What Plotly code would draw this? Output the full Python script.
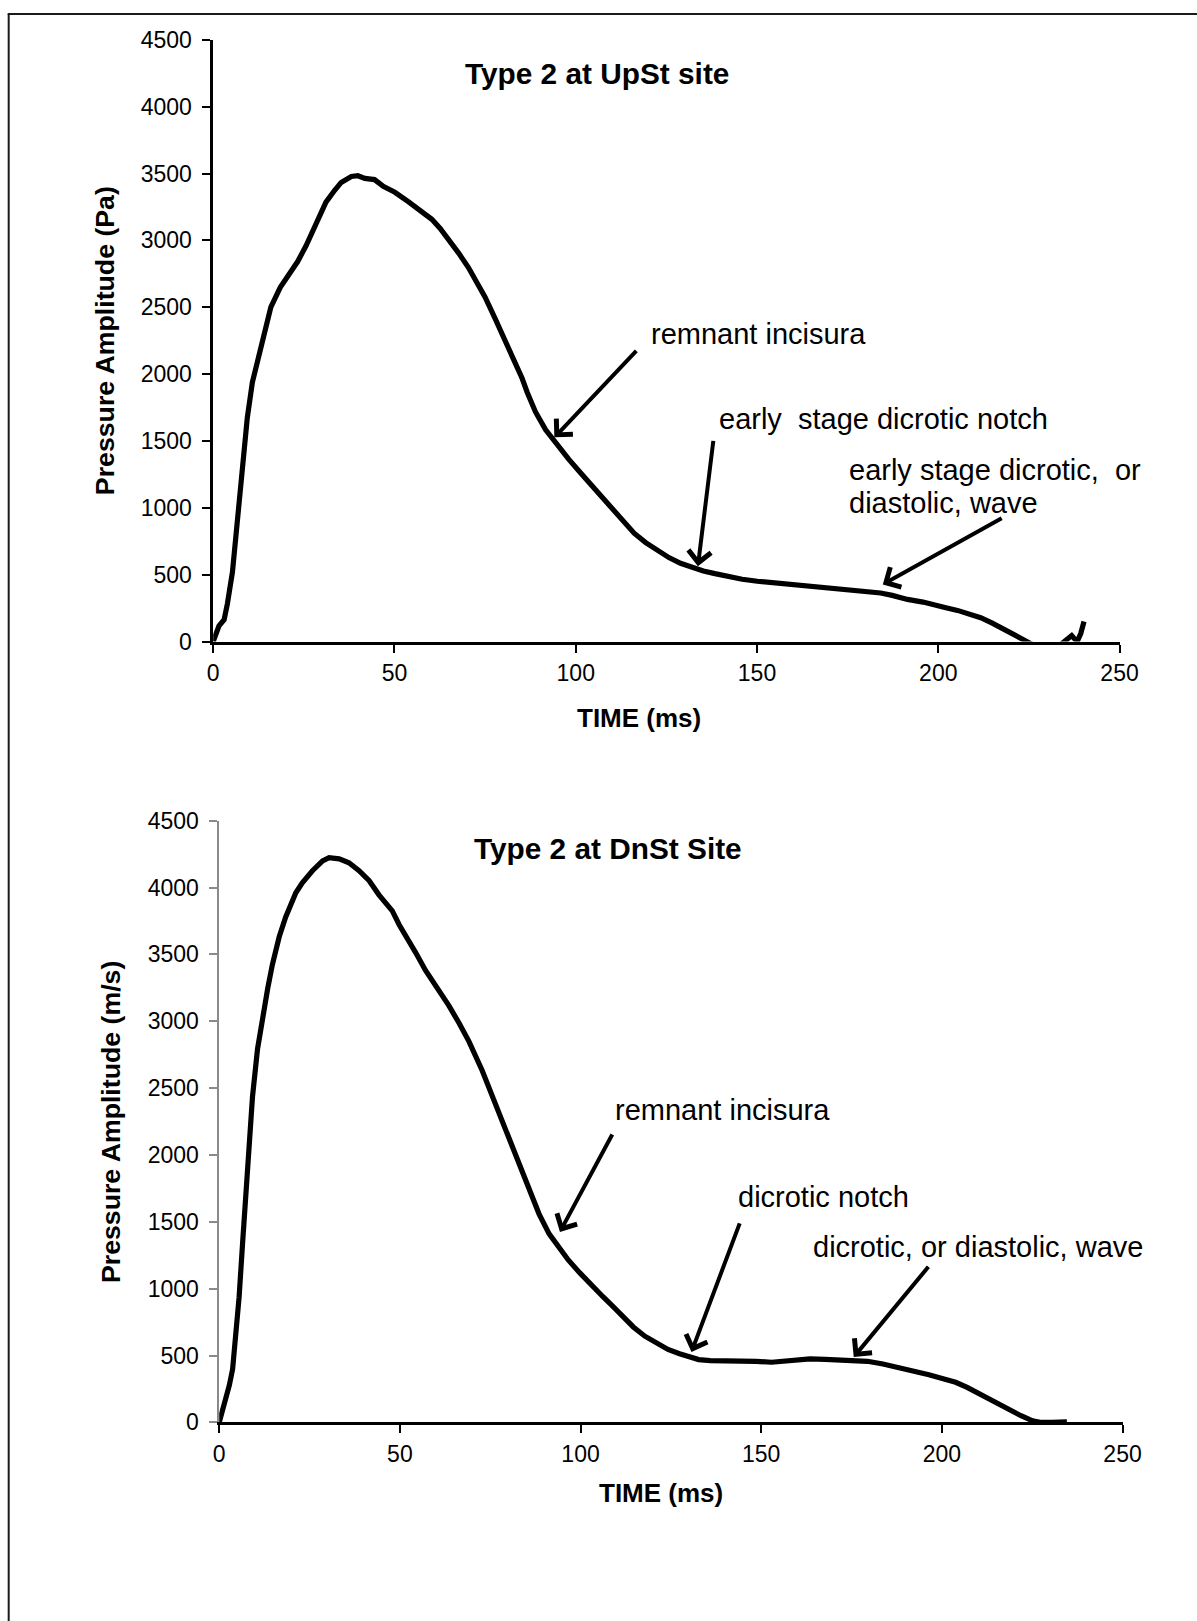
import plotly.graph_objects as go

# ---- Upstream (UpSt) pressure waveform ----
upst_time = [0, 1.6, 3.0, 3.9, 5.3, 6.65, 8.0, 9.4, 10.8, 12.2, 14.0, 15.9, 18.5, 20.1,
             21.4, 23.3, 25.6, 27.0, 29.3, 31.1, 33.5, 35.3, 38.1, 39.9, 41.8, 44.5, 46.9,
             50.1, 53.8, 57.5, 60.3, 62.6, 64.9, 67.7, 70.4, 73.2, 75.0, 77.8, 80.6, 82.9,
             85.2, 86.6, 88.9, 91.7, 94.4, 98.1, 101.3, 104.5, 107.6, 110.8, 113.5, 116.1,
             119.3, 122.5, 125.7, 128.9, 132.6, 135.2, 138.4, 141.6, 145.9, 150.1, 154.4,
             158.6, 162.9, 167.1, 171.3, 175.6, 179.8, 184.1, 187.3, 191.5, 195.8, 199.0,
             202.1, 205.3, 208.5, 211.7, 214.9, 218.1, 221.2, 223.9, 226.5, 229.5, 232.5,
             234.8, 236.0, 236.8, 237.6, 238.4, 239.3, 240.2]
upst_pressure = [0, 118, 163, 281, 518, 873, 1317, 1673, 1939, 2087, 2294, 2501, 2649, 2709,
                 2768, 2842, 2960, 3049, 3182, 3286, 3375, 3434, 3478, 3484, 3464, 3455, 3404,
                 3360, 3290, 3218, 3158, 3090, 3012, 2905, 2797, 2664, 2575, 2413, 2250, 2117,
                 1969, 1865, 1717, 1584, 1484, 1362, 1262, 1164, 1068, 972, 885, 810,
                 740, 680, 628, 585, 548, 528, 508, 488, 466, 451, 441,
                 431, 421, 408, 395, 388, 378, 363, 345, 315, 295, 278,
                 253, 233, 208, 178, 138, 95, 45, 8, -30, -70, -50,
                 -5, 30, 45, 20, 5, 60, 150]

# ---- Downstream (DnSt) pressure waveform ----
dnst_time = [0, 1.4, 2.8, 3.7, 4.6, 5.5, 6.5, 7.4, 8.3, 9.2, 10.6, 12.0, 13.4, 14.7, 16.6,
             18.4, 21.2, 23.0, 25.8, 28.6, 30.4, 33.2, 35.9, 38.7, 41.5, 44.2, 47.9, 49.8,
             51.6, 54.4, 57.1, 59.9, 63.6, 66.4, 69.1, 72.8, 74.6, 77.4, 80.2, 82.9, 85.7,
             88.5, 91.3, 94.0, 96.6, 99.8, 103.0, 106.2, 109.3, 112.0, 114.6, 117.8, 121.0,
             124.2, 127.4, 130.6, 132.7, 135.9, 140.1, 144.4, 148.6, 152.9, 157.1, 161.4,
             163.5, 167.7, 172.0, 175.2, 179.4, 183.7, 187.9, 192.1, 196.4, 200.6, 203.8,
             207.0, 211.3, 215.5, 218.7, 221.9, 225.1, 227.2, 230.4, 234.6]
dnst_pressure = [0, 129, 278, 398, 638, 937, 1356, 1745, 2105, 2434, 2793, 3033, 3243, 3422,
                 3632, 3781, 3961, 4036, 4126, 4200, 4224, 4215, 4186, 4126, 4051, 3946, 3826,
                 3722, 3632, 3512, 3380, 3268, 3115, 2985, 2850, 2630, 2505, 2318, 2120, 1925,
                 1740, 1560, 1410, 1305, 1215, 1118, 1025, 940, 858, 782, 714, 645, 590,
                 546, 514, 489, 470, 462, 462, 457, 457, 450, 457, 462,
                 475, 472, 467, 462, 457, 437, 412, 387, 357, 325, 300,
                 262, 200, 137, 87, 50, 12, 0, 0, 5]

# ---- Axis ticks ----
time_ticks = [0, 50, 100, 150, 200, 250]
pressure_ticks = [0, 500, 1000, 1500, 2000, 2500, 3000, 3500, 4000, 4500]

# ---- Text labels (text, x, y) and arrows (tail_x, tail_y, head_x, head_y) ----
upst_labels = [
    ("remnant incisura", 120.2, 2299),
    ("early\u00a0 stage dicrotic notch", 139.0, 1667),
    ("early stage dicrotic,\u00a0 or", 174.7, 1283),
    ("diastolic, wave", 174.7, 1038),
]
upst_arrows = [
    (117.1, 2186, 94.1, 1527),
    (138.0, 1512, 133.7, 564),
    (217.9, 928, 184.7, 427),
]
dnst_labels = [
    ("remnant incisura", 109.0, 2336),
    ("dicrotic notch", 142.9, 1687),
    ("dicrotic, or diastolic, wave", 163.9, 1312),
]
dnst_arrows = [
    (109.0, 2164, 94.3, 1425),
    (144.2, 1500, 130.7, 527),
    (196.6, 1175, 175.6, 489),
]

# Figure canvas and the mapping from layout positions (page pixels) to paper fractions
W, H = 1220, 1635
PAD = 8
FONT = "Arial, 'Liberation Sans', sans-serif"


def px_x(v):
    return ((v + 2.5) / 0.977 - PAD) / W


def px_y(v):
    return 1 - ((v - 6.3) / 0.983 - PAD) / H


fig = go.Figure()
fig.add_trace(go.Scatter(x=upst_time, y=upst_pressure, mode="lines",
                         line=dict(color="black", width=5.2),
                         xaxis="x", yaxis="y", showlegend=False, hoverinfo="skip"))
fig.add_trace(go.Scatter(x=dnst_time, y=dnst_pressure, mode="lines",
                         line=dict(color="black", width=5.2),
                         xaxis="x2", yaxis="y2", showlegend=False, hoverinfo="skip"))

tickfont = dict(family=FONT, size=23, color="black")


def x_axis(domain, anchor):
    return dict(domain=domain, anchor=anchor, range=[0, 250], tickvals=time_ticks,
                showline=True, linecolor="black", linewidth=3, ticks="outside",
                ticklen=8, tickwidth=2, tickcolor="black", showgrid=False,
                zeroline=False, tickfont=tickfont, fixedrange=True,
                ticklabelstandoff=1)


def y_axis(domain, anchor, color, lw):
    return dict(domain=domain, anchor=anchor, range=[0, 4500], tickvals=pressure_ticks,
                showline=True, linecolor=color, linewidth=lw, ticks="outside",
                ticklen=8, tickwidth=2, tickcolor=color, showgrid=False,
                zeroline=False, tickfont=tickfont, fixedrange=True,
                ticklabelstandoff=6)


annotations = []


def label(text, x, y, xref, yref, size=29, bold=False, xanchor="left", angle=0):
    annotations.append(dict(
        text=f"<b>{text}</b>" if bold else text, x=x, y=y, xref=xref, yref=yref,
        xanchor=xanchor, yanchor="middle", showarrow=False, textangle=angle,
        font=dict(family=FONT, size=size, color="black")))


def arrow(tx, ty, hx, hy, xref, yref):
    annotations.append(dict(
        text="", x=hx, y=hy, ax=tx, ay=ty, xref=xref, yref=yref,
        axref=xref, ayref=yref, showarrow=True, arrowhead=4, arrowsize=1.1,
        arrowwidth=4, arrowcolor="black", standoff=0, startstandoff=0))


for t, x, y in upst_labels:
    label(t, x, y, "x", "y")
for a in upst_arrows:
    arrow(*a, "x", "y")
for t, x, y in dnst_labels:
    label(t, x, y, "x2", "y2")
for a in dnst_arrows:
    arrow(*a, "x2", "y2")

# Panel titles
label("Type 2 at UpSt site", 105.8, 4245, "x", "y", size=29.8, bold=True, xanchor="center")
label("Type 2 at DnSt Site", 107.7, 4290, "x2", "y2", size=29.8, bold=True, xanchor="center")

# Axis titles
label("TIME (ms)", px_x(637), px_y(718), "paper", "paper", size=26, bold=True, xanchor="center")
label("TIME (ms)", px_x(659), px_y(1493), "paper", "paper", size=26, bold=True, xanchor="center")
label("Pressure Amplitude (Pa)", px_x(104), px_y(341), "paper", "paper", size=26.7,
      bold=True, xanchor="center", angle=-90)
label("Pressure Amplitude (m/s)", px_x(110), px_y(1122), "paper", "paper", size=26.7,
      bold=True, xanchor="center", angle=-90)

# Outer frame lines (top and left edges)
frame_top = 1 - 1.0 / H
shapes = [
    dict(type="line", xref="paper", yref="paper", x0=px_x(7), x1=1.0,
         y0=frame_top, y1=frame_top, line=dict(color="#1a1a1a", width=2)),
    dict(type="line", xref="paper", yref="paper", x0=px_x(8), x1=px_x(8),
         y0=0, y1=frame_top, line=dict(color="#1a1a1a", width=2)),
]

fig.update_layout(
    width=W, height=H,
    margin=dict(l=0, r=0, t=0, b=0),
    paper_bgcolor="white", plot_bgcolor="white",
    showlegend=False,
    xaxis=x_axis([px_x(212), px_x(1116)], "y"),
    yaxis=y_axis([px_y(642), px_y(41)], "x", "black", 2.5),
    xaxis2=x_axis([px_x(218), px_x(1119)], "y2"),
    yaxis2=y_axis([px_y(1422), px_y(821)], "x2", "#8a8a8a", 1.5),
    annotations=annotations,
    shapes=shapes,
)

fig.write_html("out.html")
